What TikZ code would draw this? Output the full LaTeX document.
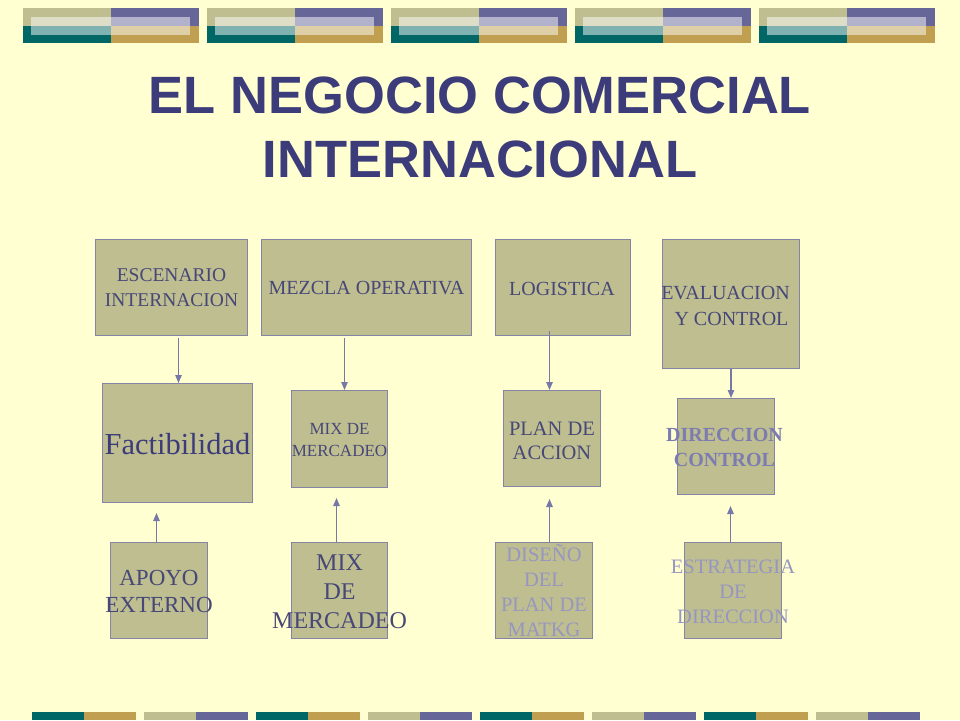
\documentclass[tikz,border=0pt]{standalone}
\usepackage{fontspec}
\setmainfont{Liberation Serif}
\newfontfamily\titlefont{Liberation Sans}
\usetikzlibrary{arrows.meta,calc}
\definecolor{bg}{HTML}{FFFFD2}
\definecolor{khaki}{HTML}{BEBE90}
\definecolor{purp}{HTML}{666699}
\definecolor{teal2}{HTML}{006666}
\definecolor{gold}{HTML}{C0A050}
\definecolor{boxline}{HTML}{8484A4}
\definecolor{arrowc}{HTML}{7878A8}
\definecolor{titlec}{HTML}{3C3C7A}
\definecolor{txtdark}{HTML}{474778}
\definecolor{txtmid}{HTML}{7C7CB0}
\definecolor{txtlight}{HTML}{9696C0}
\tikzset{
  bx/.style={draw=boxline, fill=khaki, line width=1pt, inner sep=0pt, anchor=north west},
  txt/.style={inner sep=0pt, align=center, text=txtdark},
  arr/.style={draw=arrowc, line width=1.2pt, -{Triangle[length=8pt,width=6.5pt]}},
}
\begin{document}
\begin{tikzpicture}[x=1pt,y=-1pt]
\fill[bg] (0,0) rectangle (960,720);
\useasboundingbox (0,0) rectangle (960,720);
% top decoration
\foreach \x in {23,207,391,575,759}{
  \fill[khaki] (\x,8) rectangle (\x+88,26);
  \fill[purp] (\x+88,8) rectangle (\x+176,26);
  \fill[teal2] (\x,26) rectangle (\x+88,43);
  \fill[gold] (\x+88,26) rectangle (\x+176,43);
  \fill[white, fill opacity=0.5] (\x+8,17) rectangle (\x+167,35);
}
% bottom decoration
\foreach \x in {32,256,480,704}{
  \fill[teal2] (\x,712) rectangle (\x+52,720);
  \fill[gold] (\x+52,712) rectangle (\x+104,720);
}
\foreach \x in {144,368,592,816}{
  \fill[khaki] (\x,712) rectangle (\x+52,720);
  \fill[purp] (\x+52,712) rectangle (\x+104,720);
}
% title
\node[anchor=base, inner sep=0pt, text=titlec, font=\titlefont\bfseries\fontsize{52.5}{60}\selectfont] (title1) at (480,113) {EL NEGOCIO COMERCIAL};
\node[anchor=base, inner sep=0pt, text=titlec, font=\titlefont\bfseries\fontsize{52.5}{60}\selectfont] (title2) at (480,177) {INTERNACIONAL};
% boxes
\node[bx, minimum width=152, minimum height=96] (esc) at (95,239) {};
\node[bx, minimum width=210, minimum height=96] (mez) at (261,239) {};
\node[bx, minimum width=135, minimum height=96] (log) at (495,239) {};
\node[bx, minimum width=137, minimum height=129] (eval) at (662,239) {};
\node[bx, minimum width=150, minimum height=119] (fact) at (102,383) {};
\node[bx, minimum width=96, minimum height=97] (mixa) at (291,390) {};
\node[bx, minimum width=97, minimum height=96] (plan) at (503,390) {};
\node[bx, minimum width=97, minimum height=96] (dir) at (677,398) {};
\node[bx, minimum width=97, minimum height=96] (apo) at (110,542) {};
\node[bx, minimum width=96, minimum height=96] (mixb) at (291,542) {};
\node[bx, minimum width=97, minimum height=96] (dis) at (495,542) {};
\node[bx, minimum width=97, minimum height=96] (est) at (684,542) {};
% texts
\node[txt, font=\fontsize{19.5}{24.3}\selectfont] (esct) at (esc.center) {ESCENARIO\\INTERNACION};
\node[txt, font=\fontsize{20}{24}\selectfont] (mezt) at ([yshift=-1pt]mez.center) {MEZCLA OPERATIVA};
\node[txt, font=\fontsize{20}{24}\selectfont] (logt) at ([xshift=-1pt,yshift=-1pt]log.center) {LOGISTICA};
\node[txt, font=\fontsize{20}{26}\selectfont] (evalt) at ([xshift=-5.5pt,yshift=-2pt]eval.center) {EVALUACION\\\hspace*{12pt}Y CONTROL};
\node[txt, text=titlec, font=\fontsize{30.5}{36}\selectfont] (factt) at ([yshift=-1pt]fact.center) {Factibilidad};
\node[txt, font=\fontsize{17}{22}\selectfont] (mixat) at ([yshift=-1pt]mixa.center) {MIX DE\\MERCADEO};
\node[txt, font=\fontsize{20.5}{24}\selectfont] (plant) at ([yshift=-2pt]plan.center) {PLAN DE\\ACCION};
\node[txt, text=txtmid, font=\bfseries\fontsize{20}{25}\selectfont] (dirt) at ([xshift=-1.5pt,yshift=-0.5pt]dir.center) {DIRECCION\\CONTROL};
\node[txt, font=\fontsize{23}{27}\selectfont] (apot) at ([yshift=-0.5pt]apo.center) {APOYO\\EXTERNO};
\node[txt, font=\fontsize{24}{29}\selectfont] (mixbt) at ([yshift=-1pt]mixb.center) {MIX\\DE\\MERCADEO};
\node[txt, text=txtlight, font=\fontsize{20.5}{25}\selectfont] (dist) at (dis.center) {DISEÑO\\DEL\\PLAN DE\\MATKG};
\node[txt, text=txtlight, font=\fontsize{20.5}{25}\selectfont] (estt) at ([yshift=-1pt]est.center) {ESTRATEGIA\\DE\\DIRECCION};
% arrows
\draw[arr] ($(esc.south -| fact.north)+(1,2)$) -- ($(fact.north)+(1,0)$);
\draw[arr] ($(mixa.north |- mez.south)+(5,2)$) -- ($(mixa.north)+(5,0)$);
\draw[arr] ($(plan.north |- log.south)+(-2.5,-5)$) -- ($(plan.north)+(-2.5,0)$);
\draw[arr] (eval.south) -- (eval.south |- dir.north);
\draw[arr] ($(apo.north)+(-2.5,0)$) -- ($(apo.north |- fact.south)+(-2.5,10)$);
\draw[arr] ($(mixb.north)+(-3,0)$) -- ($(mixb.north |- mixa.south)+(-3,10)$);
\draw[arr] ($(dis.north)+(5.5,0)$) -- ($(dis.north |- plan.south)+(5.5,12)$);
\draw[arr] ($(est.north)+(-2.5,0)$) -- ($(est.north |- dir.south)+(-2.5,11)$);
\end{tikzpicture}
\end{document}
